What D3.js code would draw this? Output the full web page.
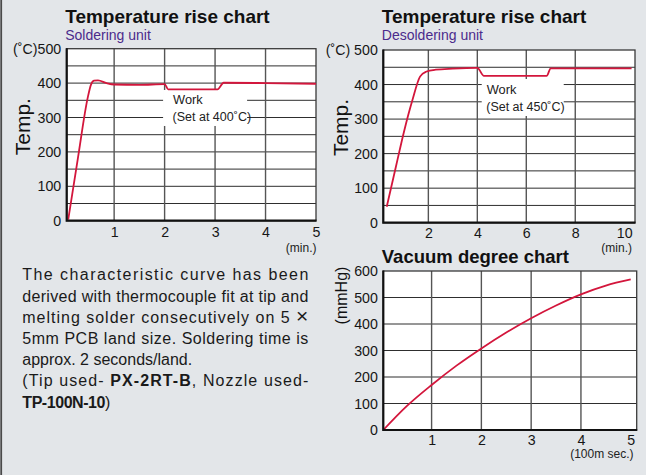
<!DOCTYPE html>
<html>
<head>
<meta charset="utf-8">
<script src="https://cdn.jsdelivr.net/npm/d3@7"></script>
<style>
  body { margin: 0; background: #e3e6e9; }
  svg { display: block; font-family: "Liberation Sans", Arial, Helvetica, sans-serif; }
  .tick text { font-size: 14.2px; fill: #161616; }
</style>
</head>
<body>
<div id="panel"></div>
<script>
// Soldering unit: time (min.) / temperature (˚C)
const solderTime = [0.09, 0.28, 0.48, 0.54, 0.6, 0.68, 0.85, 1.0, 1.5, 2.0, 2.07, 3.05, 3.17, 4.0, 5.0];
const solderTemp = [3, 180, 360, 395, 407, 408, 400, 396, 395, 397, 382, 382, 401, 400, 398];

// Desoldering unit: time (min.) / temperature (˚C)
const desolderTime = [0.3, 0.7, 1.0, 1.35, 1.66, 1.9, 2.3, 3.0, 4.0, 4.27, 6.83, 7.0, 10.3];
const desolderTemp = [46, 170, 262, 355, 423, 437, 443, 446, 448, 425, 425, 447, 447];

// Vacuum degree: time (100m sec.) / pressure (mmHg)
const vacTime = [0.03, 0.5, 1, 1.5, 2, 2.5, 3, 3.5, 4, 4.5, 5];
const vacPressure = [0, 90, 170, 243, 308, 368, 422, 470, 512, 545, 568];

// tick labels
const solderXTicks = [1, 2, 3, 4, 5];
const desolderXTicks = [2, 4, 6, 8, 10];
const vacXTicks = [1, 2, 3, 4, 5];
const tempYTicks = [0, 100, 200, 300, 400, 500];
const vacYTicks = [0, 100, 200, 300, 400, 500, 600];

// note text, one entry per printed line: [text, bold]
const noteLines = [
  [["The characteristic curve has been", false]],
  [["derived with thermocouple fit at tip and", false]],
  [["melting solder consecutively on 5 ", false], ["\u00d7", false]],
  [["5mm PCB land size. Soldering time is", false]],
  [["approx. 2 seconds/land.", false]],
  [["(Tip used- ", false], ["PX-2RT-B", true], [", Nozzle used-", false]],
  [["TP-100N-10", true], [")", false]]
];

const RED = '#d3163c';

const svg = d3.select('#panel').append('svg')
  .attr('width', 646)
  .attr('height', 475);

svg.append('rect').attr('width', 646).attr('height', 475).attr('fill', '#e3e6e9');
svg.append('line')
  .attr('x1', 1.2).attr('x2', 1.2).attr('y1', 0).attr('y2', 475)
  .attr('stroke', '#4a4a4a').attr('stroke-width', 1.8);

class SmallChart {
  constructor(_config, _xs, _ys) {
    this.config = _config;
    this.xs = _xs;
    this.ys = _ys;
    this.initVis();
  }

  initVis() {
    let vis = this;
    const c = vis.config;

    vis.xScale = d3.scaleLinear().domain(c.xDomain).range([c.left, c.right]);
    vis.yScale = d3.scaleLinear().domain(c.yDomain).range([c.bottom, c.top]);

    vis.g = svg.append('g').attr('class', 'chart');

    // title + subtitle
    vis.g.append('text')
      .attr('x', c.left - 1.5)
      .attr('y', c.titleY)
      .attr('font-size', c.titleSize)
      .attr('font-weight', 'bold')
      .attr('fill', '#111')
      .text(c.title);
    if (c.subtitle) {
      vis.g.append('text')
        .attr('x', c.left - 1.5)
        .attr('y', c.titleY + 17.3)
        .attr('font-size', 14)
        .attr('fill', '#4b2b8c')
        .text(c.subtitle);
    }

    vis.g.append('rect')
      .attr('x', c.left).attr('y', c.top)
      .attr('width', c.right - c.left).attr('height', c.bottom - c.top)
      .attr('fill', '#fff');

    vis.renderVis();
  }

  renderVis() {
    let vis = this;
    const c = vis.config;

    // horizontal grid
    vis.g.append('g').selectAll('line')
      .data(d3.range(c.yGridStep, c.yDomain[1], c.yGridStep))
      .join('line')
      .attr('x1', c.left).attr('x2', c.right)
      .attr('y1', d => vis.yScale(d)).attr('y2', d => vis.yScale(d))
      .attr('stroke', '#2e2e2e').attr('stroke-width', 1);

    // vertical grid
    vis.g.append('g').selectAll('line')
      .data(c.xGrid)
      .join('line')
      .attr('x1', d => vis.xScale(d)).attr('x2', d => vis.xScale(d))
      .attr('y1', c.top).attr('y2', c.bottom)
      .attr('stroke', '#555').attr('stroke-width', 1.4);

    // work annotation box hides grid behind text
    if (c.work) {
      const w = c.work;
      const bx = vis.xScale(w.x), by = vis.yScale(w.y);
      vis.g.append('rect')
        .attr('x', bx).attr('y', by)
        .attr('width', w.w).attr('height', w.h)
        .attr('fill', '#fff');
      vis.g.append('text')
        .attr('x', bx + w.pad).attr('y', by + w.line1)
        .attr('font-size', 12.8).attr('fill', '#222')
        .text('Work');
      vis.g.append('text')
        .attr('x', bx + w.pad - 0.5).attr('y', by + w.line2)
        .attr('font-size', 12.5).attr('fill', '#222')
        .text(w.text);
    }

    // frame
    vis.g.append('rect')
      .attr('x', c.left).attr('y', c.top)
      .attr('width', c.right - c.left).attr('height', c.bottom - c.top)
      .attr('fill', 'none').attr('stroke', '#3a3a3a').attr('stroke-width', 1.3);

    // curve
    vis.line = d3.line()
      .x(i => vis.xScale(vis.xs[i]))
      .y(i => vis.yScale(vis.ys[i]))
      .curve(d3.curveMonotoneX);

    vis.g.append('path')
      .datum(d3.range(vis.xs.length))
      .attr('fill', 'none')
      .attr('stroke', RED)
      .attr('stroke-width', 1.8)
      .attr('stroke-linejoin', 'round')
      .attr('d', vis.line);

    // axes
    vis.xAxis = d3.axisBottom(vis.xScale)
      .tickValues(c.xTicks)
      .tickSize(0)
      .tickPadding(c.xPad)
      .tickFormat(d3.format('d'));
    vis.yAxis = d3.axisLeft(vis.yScale)
      .tickValues(c.yTicks)
      .tickSize(0)
      .tickPadding(5.5)
      .tickFormat(d => (d === c.yDomain[1] && c.yPrefix ? c.yPrefix : '') + d);

    vis.g.append('g')
      .attr('transform', `translate(0,${c.bottom})`)
      .call(vis.xAxis)
      .call(g => g.select('.domain').remove())
      .call(g => g.selectAll('text').attr('font-size', null).attr('font-family', null));
    vis.g.append('g')
      .attr('transform', `translate(${c.left},0)`)
      .call(vis.yAxis)
      .call(g => g.select('.domain').remove())
      .call(g => g.selectAll('text').attr('font-size', null).attr('font-family', null));

    // heavy left / bottom axis lines
    vis.g.append('path')
      .attr('d', `M${c.left},${c.top - 0.5}V${c.bottom}H${c.right + 0.5}`)
      .attr('fill', 'none').attr('stroke', '#111').attr('stroke-width', 2.2);

    // unit under x axis
    vis.g.append('text')
      .attr('x', c.unitX).attr('y', c.unitY)
      .attr('text-anchor', 'end')
      .attr('font-size', 12).attr('fill', '#222')
      .text(c.xUnit);

    // y title
    vis.g.append('text')
      .attr('transform', `translate(${c.yTitleX},${c.yTitleY}) rotate(-90)`)
      .attr('text-anchor', 'middle')
      .attr('font-size', c.yTitleSize)
      .attr('fill', '#111')
      .text(c.yTitle);
  }
}

new SmallChart({
  title: 'Temperature rise chart', subtitle: 'Soldering unit', titleSize: 19, titleY: 22.7,
  left: 66.7, right: 316, top: 48.7, bottom: 220.7,
  xDomain: [0.06, 5], yDomain: [0, 500],
  xTicks: solderXTicks, yTicks: tempYTicks, xGrid: [1, 2, 3, 4], yGridStep: 50,
  xPad: 6.5, yPrefix: '(\u02daC)',
  xUnit: '(min.)', unitX: 316.5, unitY: 251.5,
  yTitle: 'Temp.', yTitleSize: 21, yTitleX: 30, yTitleY: 126.7,
  work: { x: 1.97, y: 380, w: 84, h: 36, pad: 10, line1: 14, line2: 31.5, text: '(Set at 400\u02daC)' }
}, solderTime, solderTemp);

new SmallChart({
  title: 'Temperature rise chart', subtitle: 'Desoldering unit', titleSize: 19, titleY: 22.7,
  left: 383.3, right: 635, top: 50, bottom: 222.7,
  xDomain: [0.16, 10.44], yDomain: [0, 500],
  xTicks: desolderXTicks, yTicks: tempYTicks, xGrid: [2, 4, 6, 8], yGridStep: 50,
  xPad: 5, yPrefix: '(\u02daC) ',
  xUnit: '(min.)', unitX: 632, unitY: 251.5,
  yTitle: 'Temp.', yTitleSize: 21, yTitleX: 347.5, yTitleY: 127.5,
  work: { x: 4.18, y: 416, w: 82, h: 37, pad: 5, line1: 15.3, line2: 32, text: '(Set at 450\u02daC)' }
}, desolderTime, desolderTemp);

new SmallChart({
  title: 'Vacuum degree chart', subtitle: null, titleSize: 18.5, titleY: 263.3,
  left: 383.3, right: 636.7, top: 271, bottom: 430,
  xDomain: [0.03, 5.12], yDomain: [0, 600],
  xTicks: vacXTicks, yTicks: vacYTicks, xGrid: [1, 2, 3, 4], yGridStep: 100,
  xPad: 5, yPrefix: null,
  xUnit: '(100m sec.)', unitX: 633.5, unitY: 458.3,
  yTitle: '(mmHg)', yTitleSize: 16, yTitleX: 347, yTitleY: 295.5
}, vacTime, vacPressure);

// note paragraph
const noteWidths = [286, 286, 286, 286, null, 286, 88];
const note = svg.append('g').attr('class', 'note');
noteLines.forEach((parts, i) => {
  const t = note.append('text')
    .attr('x', 22.3)
    .attr('y', 280.3 + i * 21.2)
    .attr('font-size', 16)
    .attr('fill', '#1a1a1a');
  if (noteWidths[i]) t.attr('textLength', noteWidths[i]).attr('lengthAdjust', 'spacing');
  parts.forEach(([s, b]) => {
    t.append('tspan')
      .attr('font-weight', b ? 'bold' : null)
      .attr('font-size', s === '\u00d7' ? 21 : null)
      .text(s);
  });
});
</script>
</body>
</html>
